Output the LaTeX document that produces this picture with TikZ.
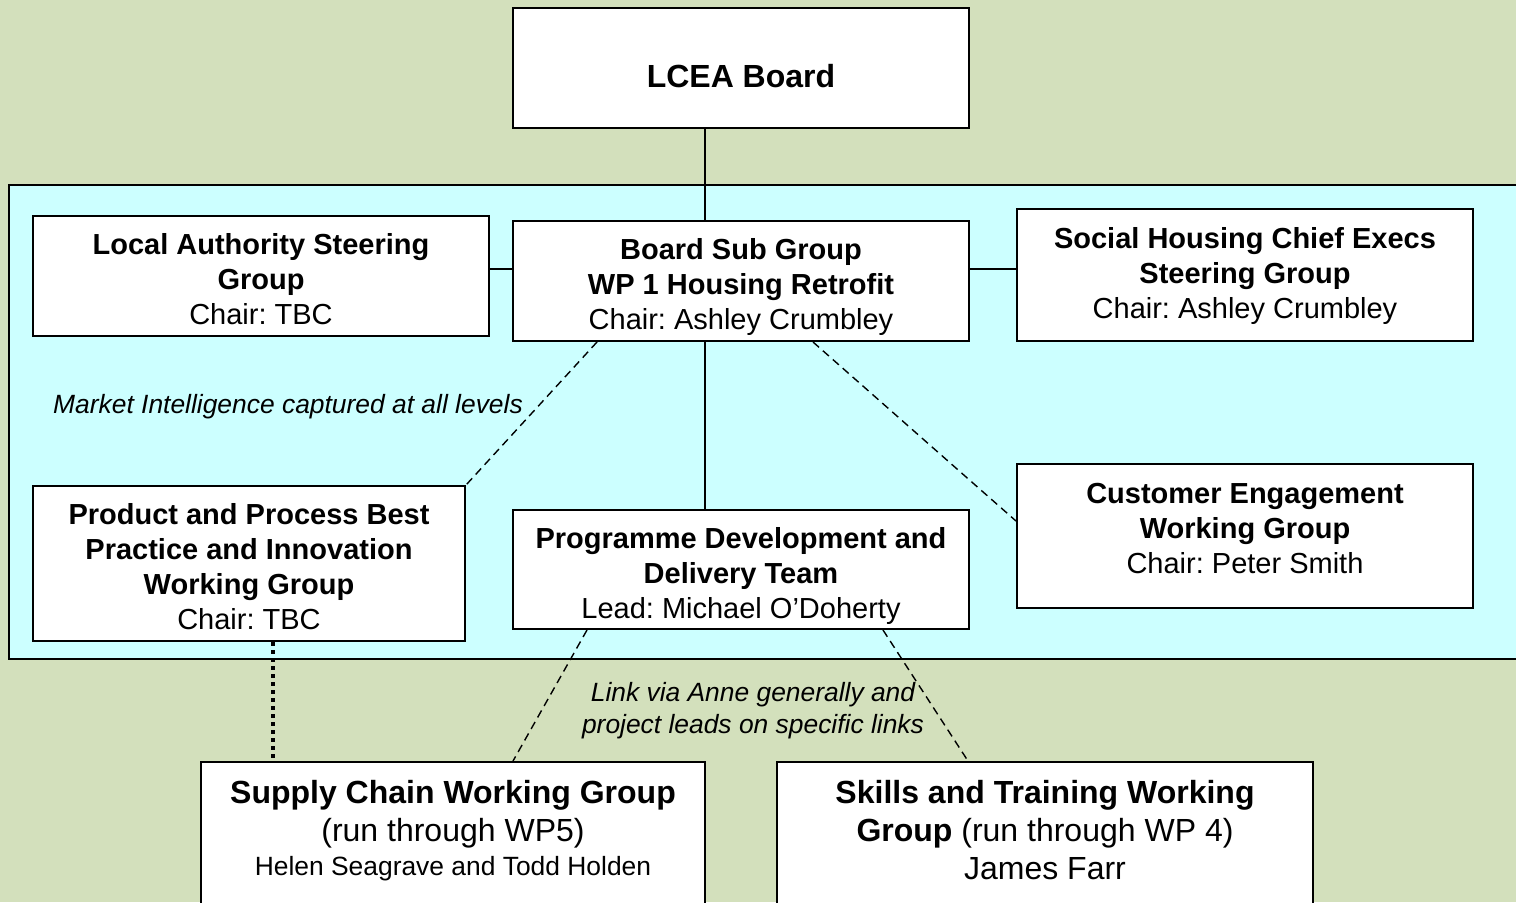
\documentclass[tikz,border=0pt]{standalone}
\usepackage{fontspec}
\setmainfont{Liberation Sans}
\usetikzlibrary{calc}
\frenchspacing
\definecolor{bggreen}{HTML}{D3E0BC}
\definecolor{panelcyan}{HTML}{CCFFFF}
\tikzset{
  box/.style={draw=black, line width=1pt, fill=white, inner sep=0pt},
  mtext/.style={align=center, font=\fontsize{14.5}{17.5}\selectfont},
  btext/.style={align=center, font=\fontsize{16}{19}\selectfont},
  itext/.style={align=center, font=\fontsize{13.2}{16}\selectfont\itshape},
  solidline/.style={draw=black, line width=0.8pt},
  dashline/.style={draw=black, line width=0.7pt, dash pattern=on 4pt off 2.6pt},
  dotline/.style={draw=black, line width=2pt, dash pattern=on 2pt off 2pt},
}
\begin{document}
\begin{tikzpicture}[x=0.5pt, y=-0.5pt]
\useasboundingbox (0,0) rectangle (1516,902);
\fill[bggreen] (0,0) rectangle (1516,902);
% panel
\path[fill=panelcyan, draw=black, line width=1pt] (1530,185) -- (9,185) -- (9,659) -- (1530,659);
\coordinate (cx) at (705,0);
\coordinate (hy) at (0,269);
\coordinate (d1) at (597,0);
\coordinate (d2) at (813,0);
\coordinate (d3) at (587,0);
\coordinate (d4) at (883,0);
\coordinate (d5) at (513,0);
\coordinate (d6) at (968,0);
\coordinate (d7) at (273,0);
% boxes
\node[box, minimum width=228pt, minimum height=60pt] (lcea) at (741,68) {};
\node[box, minimum width=228pt, minimum height=60pt] (la) at (261,276) {};
\node[box, minimum width=228pt, minimum height=60pt] (bsg) at (741,281) {};
\node[box, minimum width=228pt, minimum height=66pt] (sh) at (1245,275) {};
\node[box, minimum width=216pt, minimum height=77.5pt] (pp) at (249,563.5) {};
\node[box, minimum width=228pt, minimum height=59.5pt] (pd) at (741,569.5) {};
\node[box, minimum width=228pt, minimum height=72pt] (ce) at (1245,536) {};
\node[box, minimum width=252pt, minimum height=100pt] (sc) at (453,862) {};
\node[box, minimum width=268pt, minimum height=100pt] (st) at (1045,862) {};
% texts
\node[btext, font=\fontsize{16}{19}\selectfont\bfseries] (lceat) at (741,76) {LCEA Board};
\node[mtext] (lat) at (261,279) {\textbf{Local Authority Steering}\\\textbf{Group}\\Chair: TBC};
\node[mtext] (bsgt) at (741,287) {\textbf{Board Sub Group}\\\textbf{WP 1 Housing Retrofit}\\Chair: Ashley Crumbley};
\node[mtext] (sht) at (1245,276) {\textbf{Social Housing Chief Execs}\\\textbf{Steering Group}\\Chair: Ashley Crumbley};
\node[mtext] (ppt) at (249,567) {\textbf{Product and Process Best}\\\textbf{Practice and Innovation}\\\textbf{Working Group}\\Chair: TBC};
\node[mtext] (pdt) at (741,576) {\textbf{Programme Development and}\\\textbf{Delivery Team}\\Lead: Michael O’Doherty};
\node[mtext] (cet) at (1245,529) {\textbf{Customer Engagement}\\\textbf{Working Group}\\Chair: Peter Smith};
\node[btext] (sct) at (453,831) {\textbf{Supply Chain Working Group}\\(run through WP5)\\[-2pt]{\fontsize{13.2}{16}\selectfont Helen Seagrave and Todd Holden}};
\node[btext] (stt) at (1045,830) {\textbf{Skills and Training Working}\\\textbf{Group} (run through WP 4)\\James Farr};
\node[itext] (mi) at (288,407) {Market Intelligence captured at all levels};
\node[itext] (link) at (753,711) {Link via Anne generally and\\project leads on specific links};
% connectors
\draw[solidline] (lcea.south -| cx) -- (bsg.north -| cx);
\draw[solidline] (bsg.south -| cx) -- (pd.north -| cx);
\draw[solidline] (la.east |- hy) -- (bsg.west |- hy);
\draw[solidline] (bsg.east |- hy) -- (sh.west |- hy);
\draw[dashline] (bsg.south -| d1) -- (pp.north east);
\draw[dashline] (bsg.south -| d2) -- ($(ce.west)+(0,-15)$);
\draw[dashline] (pd.south -| d3) -- (sc.north -| d5);
\draw[dashline] (pd.south -| d4) -- (st.north -| d6);
\draw[dotline] (pp.south -| d7) -- (sc.north -| d7);
\end{tikzpicture}
\end{document}
